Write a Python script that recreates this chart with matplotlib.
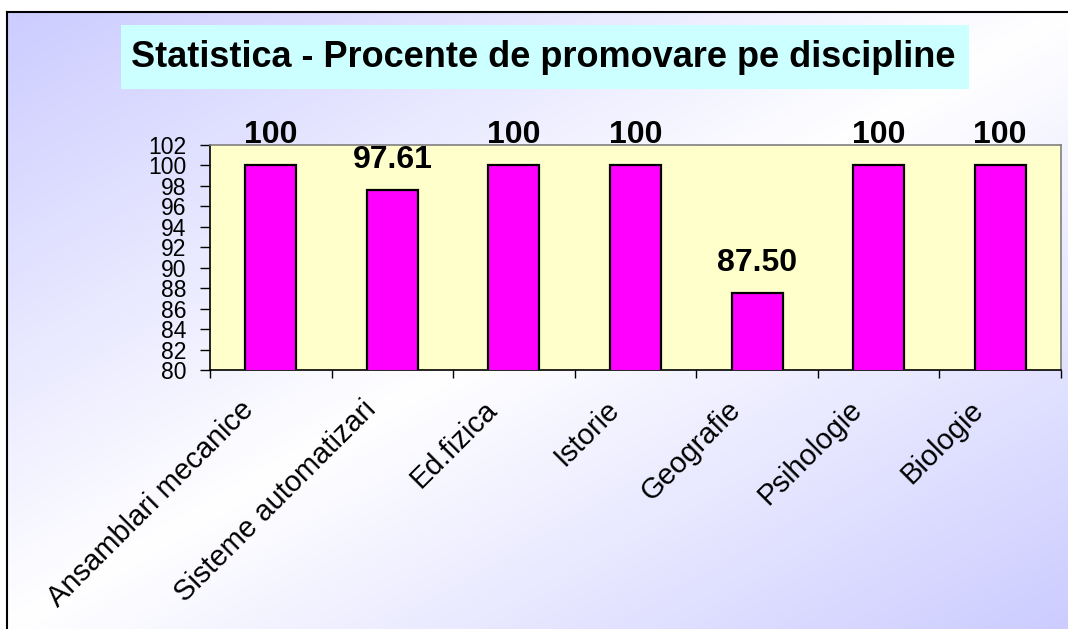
import numpy as np
import matplotlib
matplotlib.use("Agg")
import matplotlib.pyplot as plt
from matplotlib.patches import Rectangle
from matplotlib.transforms import ScaledTranslation

# Date grafic
discipline = ["Ansamblari mecanice", "Sisteme automatizari", "Ed.fizica", "Istorie",
              "Geografie", "Psihologie", "Biologie"]
procente = [100, 97.61, 100, 100, 87.50, 100, 100]
etichete = ["100", "97.61", "100", "100", "87.50", "100", "100"]
yticks = list(range(80, 103, 2))

W, H = 1068, 629
fig = plt.figure(figsize=(W / 100, H / 100), dpi=100, facecolor="white")

# Fundal cu gradient diagonal (lavanda - alb - lavanda)
ax_bg = fig.add_axes([7 / W, 0, 1 - 7 / W, 1 - 12 / H], zorder=0)
nx, ny = 400, 240
gx, gy = np.meshgrid(np.linspace(0, 1, nx), np.linspace(0, 1, ny))
t = (gx + gy) / 2
s = np.abs(2 * t - 1)[..., None]
lav = np.array([0.80, 0.80, 1.0])
img = (1 - s) * np.ones(3) + s * lav
ax_bg.imshow(img, extent=[0, 1, 1, 0], aspect="auto", interpolation="bilinear")
ax_bg.set_xlim(0, 1)
ax_bg.set_ylim(1, 0)
ax_bg.set_xticks([])
ax_bg.set_yticks([])
for sp in ["right", "bottom"]:
    ax_bg.spines[sp].set_visible(False)
for sp in ["left", "top"]:
    ax_bg.spines[sp].set_linewidth(1.5)
    ax_bg.spines[sp].set_color("black")

# Caseta titlului
fig.patches.append(Rectangle((121 / W, 1 - 89 / H), 848 / W, 64 / H,
                             transform=fig.transFigure, facecolor="#ccffff",
                             edgecolor="none", zorder=1))
fig.text(543 / W, 1 - 67 / H, "Statistica - Procente de promovare pe discipline",
         ha="center", va="baseline", fontsize=26, fontweight="bold",
         family="Liberation Sans", zorder=2)

# Graficul principal
ax = fig.add_axes([210 / W, 1 - 370 / H, (1061 - 210) / W, (370 - 145) / H], zorder=3)
ax.set_facecolor("#ffffcc")
x = np.arange(len(discipline))
ax.bar(x, procente, width=0.42, color="#ff00ff", edgecolor="black", linewidth=1.6, zorder=3)

for xi, v, lab in zip(x, procente, etichete):
    ax.annotate(lab, (xi, v), xytext=(0, 16), textcoords="offset points",
                ha="center", va="baseline", fontsize=23, fontweight="bold",
                family="Liberation Sans", annotation_clip=False)

ax.set_xlim(-0.5, len(discipline) - 0.5)
ax.set_ylim(80, 102)
ax.set_yticks(yticks)
ax.set_yticklabels([str(v) for v in yticks], family="Liberation Sans", fontsize=16.5)
ax.tick_params(axis="y", direction="out", length=7, width=1, pad=10, colors="black")

ax.set_xticks(np.arange(-0.5, len(discipline), 1))
ax.set_xticklabels([])
ax.tick_params(axis="x", which="major", direction="out", length=6, width=1)
ax.set_xticks(x, minor=True)
ax.set_xticklabels(discipline, minor=True, rotation=45, ha="right", va="top",
                   rotation_mode="anchor", family="Liberation Sans", fontsize=21)
ax.tick_params(axis="x", which="minor", length=0, pad=14)
# etichetele categoriilor sunt mutate spre stanga, ca in original
deplasare = ScaledTranslation(-0.31, -0.06, fig.dpi_scale_trans)
for lbl in ax.get_xticklabels(minor=True):
    lbl.set_transform(lbl.get_transform() + deplasare)

for sp in ["top", "right"]:
    ax.spines[sp].set_color("#808080")
    ax.spines[sp].set_linewidth(1.2)
for sp in ["left", "bottom"]:
    ax.spines[sp].set_color("black")
    ax.spines[sp].set_linewidth(1.2)

fig.savefig("out.png", dpi=100)
